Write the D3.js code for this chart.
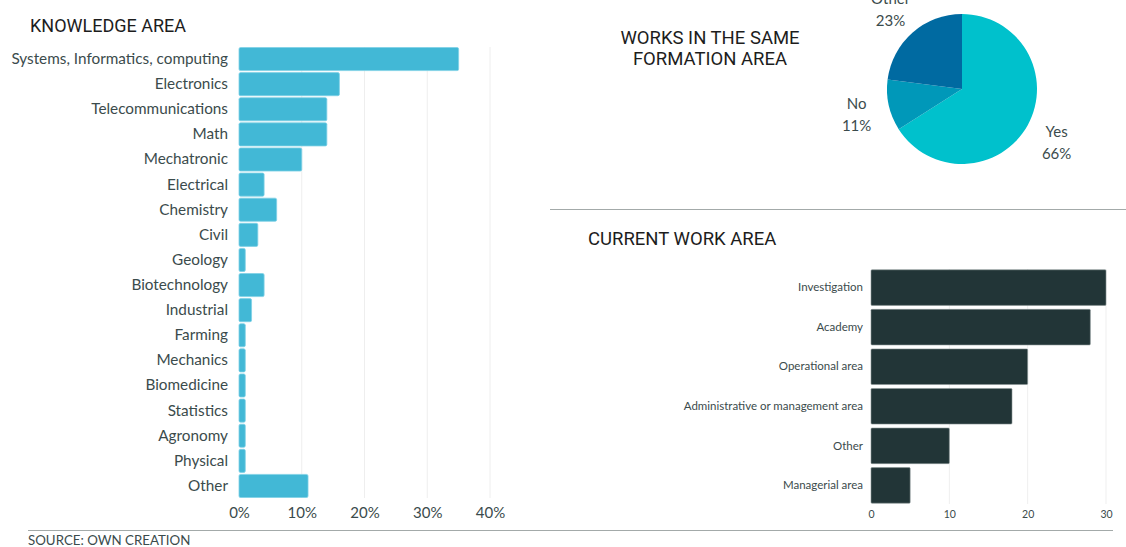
<!DOCTYPE html>
<html>
<head>
<meta charset="utf-8">
<script src="https://cdn.jsdelivr.net/npm/d3@7"></script>
<style>
  html, body { margin: 0; padding: 0; background: #fff; }
  svg { display: block; }
</style>
</head>
<body>
<svg id="chart" width="1126" height="547"></svg>
<script>
// Knowledge area (percent of respondents)
const knowledgeAreas = ["Systems, Informatics, computing", "Electronics", "Telecommunications", "Math",
  "Mechatronic", "Electrical", "Chemistry", "Civil", "Geology", "Biotechnology", "Industrial",
  "Farming", "Mechanics", "Biomedicine", "Statistics", "Agronomy", "Physical", "Other"];
const knowledgeShares = [35, 16, 14, 14, 10, 4, 6, 3, 1, 4, 2, 1, 1, 1, 1, 1, 1, 11];
const knowledgeTicks = [0, 10, 20, 30, 40];

// Works in the same formation area
const formationLabels = ["Yes", "No", "Other"];
const formationShares = [66, 11, 23];

// Current work area (count)
const workAreas = ["Investigation", "Academy", "Operational area", "Administrative or management area", "Other", "Managerial area"];
const workCounts = [30, 28, 20, 18, 10, 5];
const workTicks = [0, 10, 20, 30];

const svg = d3.select("#chart");
const titleFont = "Roboto, 'DejaVu Sans', sans-serif";
const labelFont = "Lato, 'Open Sans', sans-serif";
const textColor = "#3b4b4c";

// ---------- Knowledge area bar chart ----------
const kx = d3.scaleLinear().domain([0, 40]).range([239, 490]);
const ky = d3.scaleBand().domain(knowledgeAreas).range([47, 498]).paddingInner(0.08).paddingOuter(0.02);

svg.append("text").attr("x", 30).attr("y", 32)
  .attr("font-family", titleFont).attr("font-size", 18).attr("fill", "#1d1d1d")
  .text("KNOWLEDGE AREA");

const kg = svg.append("g");
kg.selectAll("line.grid").data(knowledgeTicks.slice(1)).join("line")
  .attr("class", "grid")
  .attr("x1", d => kx(d)).attr("x2", d => kx(d))
  .attr("y1", 47).attr("y2", 498)
  .attr("stroke", "#eeeeee").attr("stroke-width", 1);

kg.selectAll("rect").data(knowledgeShares).join("rect")
  .attr("x", kx(0))
  .attr("y", (d, i) => ky(knowledgeAreas[i]))
  .attr("width", d => kx(d) - kx(0))
  .attr("height", ky.bandwidth())
  .attr("rx", 1.5)
  .attr("fill", "#42b8d6")
  .attr("stroke", "#7fd0e6").attr("stroke-width", 0.8);

const kAxisY = d3.axisLeft(ky).tickSize(0).tickPadding(11);
kg.append("g").attr("transform", `translate(${kx(0)},0)`).call(kAxisY)
  .call(g => g.select(".domain").remove())
  .call(g => g.selectAll("text").attr("font-family", labelFont).attr("font-size", 15.3).attr("fill", textColor));

const kAxisX = d3.axisBottom(kx).tickValues(knowledgeTicks).tickSize(0).tickPadding(9).tickFormat(d => d + "%");
kg.append("g").attr("transform", "translate(0,498)").call(kAxisX)
  .call(g => g.select(".domain").remove())
  .call(g => g.selectAll("text").attr("font-family", labelFont).attr("font-size", 15).attr("fill", textColor));

// ---------- Pie chart ----------
svg.append("text").attr("font-family", titleFont).attr("font-size", 18.5).attr("fill", "#1d1d1d")
  .attr("text-anchor", "middle")
  .selectAll("tspan").data(["WORKS IN THE SAME", "FORMATION AREA"]).join("tspan")
  .attr("x", 710).attr("y", (d, i) => 44 + i * 21).text(d => d);

const pieColors = d3.scaleOrdinal().domain(formationLabels).range(["#00c1cc", "#0098b9", "#006aa1"]);
const pie = d3.pie().sort(null).value(d => d)(formationShares);
const arc = d3.arc().innerRadius(0).outerRadius(75);
const pg = svg.append("g").attr("transform", "translate(962,89)");
pg.selectAll("path").data(pie).join("path")
  .attr("d", arc)
  .attr("fill", (d, i) => pieColors(formationLabels[i]));

const labelArc = d3.arc().innerRadius(108).outerRadius(108);
pg.selectAll("text.lbl").data(pie).join("text")
  .attr("class", "lbl")
  .attr("font-family", labelFont).attr("font-size", 15).attr("fill", textColor)
  .attr("text-anchor", "middle")
  .attr("transform", d => {
    const [x, y] = labelArc.centroid(d);
    return `translate(${x},${y})`;
  })
  .each(function (d, i) {
    const t = d3.select(this);
    t.append("tspan").attr("x", 0).attr("dy", "-0.25em").text(formationLabels[i]);
    t.append("tspan").attr("x", 0).attr("dy", "1.45em").text(formationShares[i] + "%");
  });

// Divider lines
svg.append("line").attr("x1", 550).attr("x2", 1126).attr("y1", 209.5).attr("y2", 209.5)
  .attr("stroke", "#a3aaa9").attr("stroke-width", 1.2);
svg.append("line").attr("x1", 28).attr("x2", 1113).attr("y1", 530.5).attr("y2", 530.5)
  .attr("stroke", "#a3aaa9").attr("stroke-width", 1.2);

svg.append("text").attr("x", 28).attr("y", 545)
  .attr("font-family", labelFont).attr("font-size", 13.3).attr("fill", textColor)
  .text("SOURCE: OWN CREATION");

// ---------- Current work area bar chart ----------
svg.append("text").attr("x", 588).attr("y", 245)
  .attr("font-family", titleFont).attr("font-size", 18.5).attr("fill", "#1d1d1d")
  .text("CURRENT WORK AREA");

const wx = d3.scaleLinear().domain([0, 30]).range([871, 1106]);
const wy = d3.scaleBand().domain(workAreas).range([269, 504]).paddingInner(0.1).paddingOuter(0.02);

const wg = svg.append("g");
wg.selectAll("line.grid").data(workTicks.slice(1)).join("line")
  .attr("class", "grid")
  .attr("x1", d => wx(d)).attr("x2", d => wx(d))
  .attr("y1", 269).attr("y2", 504)
  .attr("stroke", "#efefef").attr("stroke-width", 1);

wg.selectAll("rect").data(workCounts).join("rect")
  .attr("x", wx(0))
  .attr("y", (d, i) => wy(workAreas[i]))
  .attr("width", d => wx(d) - wx(0))
  .attr("height", wy.bandwidth())
  .attr("rx", 1)
  .attr("fill", "#223537")
  .attr("stroke", "#8a9696").attr("stroke-width", 0.6);

const wAxisY = d3.axisLeft(wy).tickSize(0).tickPadding(8);
wg.append("g").attr("transform", `translate(${wx(0)},0)`).call(wAxisY)
  .call(g => g.select(".domain").remove())
  .call(g => g.selectAll("text").attr("font-family", labelFont).attr("font-size", 11.5).attr("fill", textColor));

const wAxisX = d3.axisBottom(wx).tickValues(workTicks).tickSize(0).tickPadding(7);
wg.append("g").attr("transform", "translate(0,504)").call(wAxisX)
  .call(g => g.select(".domain").remove())
  .call(g => g.selectAll("text").attr("font-family", labelFont).attr("font-size", 10.5).attr("fill", textColor));
</script>
</body>
</html>
